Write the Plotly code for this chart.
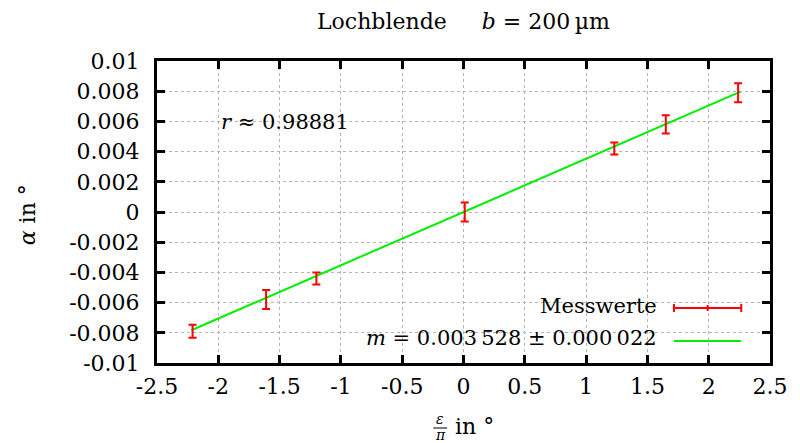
import plotly.graph_objects as go

# data
x_vals = [-2.21, -1.61, -1.20, 0.01, 1.23, 1.65, 2.24]
y_vals = [-0.0079, -0.0058, -0.0044, 0.0000, 0.0042, 0.0058, 0.0079]
y_err = [0.00043, 0.00063, 0.00040, 0.00063, 0.00040, 0.00060, 0.00063]
slope = 0.003528
fit_x = [-2.22, 2.26]
fit_y = [slope * v for v in fit_x]

x_ticks = [-2.5, -2, -1.5, -1, -0.5, 0, 0.5, 1, 1.5, 2, 2.5]
x_ticktext = ["-2.5", "-2", "-1.5", "-1", "-0.5", "0", "0.5", "1", "1.5", "2", "2.5"]
y_ticks = [-0.01, -0.008, -0.006, -0.004, -0.002, 0, 0.002, 0.004, 0.006, 0.008, 0.01]
y_ticktext = ["-0.01", "-0.008", "-0.006", "-0.004", "-0.002", "0",
              "0.002", "0.004", "0.006", "0.008", "0.01"]

FONT = "DejaVu Serif"
FS = 22
RED = "#ff0000"
GREEN = "#00ee00"

fig = go.Figure()
fig.add_trace(go.Scatter(
    x=fit_x, y=fit_y, mode="lines",
    line=dict(color=GREEN, width=2), showlegend=False, hoverinfo="skip"))
fig.add_trace(go.Scatter(
    x=x_vals, y=y_vals, mode="markers",
    marker=dict(color=RED, size=1),
    error_y=dict(type="data", array=y_err, visible=True, color=RED,
                 thickness=2, width=4),
    showlegend=False))

W, H = 800, 443
L, R, T, B = 157, 24, 61, 80
pw, ph = W - L - R, H - T - B

def px(x):
    return (x - L) / pw

def py(y):
    return (H - B - y) / ph

axis_common = dict(
    showline=True, linecolor="black", linewidth=3, mirror="allticks",
    ticks="inside", ticklen=8, tickwidth=3, tickcolor="black",
    showgrid=True, gridcolor="#b4b4b4", gridwidth=1, griddash="dot",
    zeroline=False, tickfont=dict(family=FONT, size=FS, color="black"),
)

fig.update_layout(
    width=W, height=H,
    margin=dict(l=L, r=R, t=T, b=B),
    paper_bgcolor="white", plot_bgcolor="white",
    font=dict(family=FONT, color="black"),
    xaxis=dict(range=[-2.5, 2.5], tickvals=x_ticks, ticktext=x_ticktext,
               ticklabelstandoff=2, **axis_common),
    yaxis=dict(range=[-0.01, 0.01], tickvals=y_ticks, ticktext=y_ticktext,
               ticklabelstandoff=10, **axis_common),
    showlegend=False,
)

shapes = []
# opaque key box
shapes.append(dict(type="rect", xref="paper", yref="paper", layer="between",
                   x0=px(405), x1=px(762), y0=0, y1=py(284),
                   fillcolor="white", line=dict(width=0)))
# legend sample: error bar
ry = py(308)
shapes.append(dict(type="line", xref="paper", yref="paper", x0=px(679), x1=px(747),
                   y0=ry, y1=ry, line=dict(color=RED, width=2)))
for xx, hh in [(679, 4), (747, 4), (713, 3)]:
    shapes.append(dict(type="line", xref="paper", yref="paper", x0=px(xx), x1=px(xx),
                       y0=py(308 - hh), y1=py(308 + hh), line=dict(color=RED, width=2)))
# legend sample: fit line
gy = py(341)
shapes.append(dict(type="line", xref="paper", yref="paper", x0=px(679), x1=px(747),
                   y0=gy, y1=gy, line=dict(color=GREEN, width=2)))
# fraction bar in x-axis title
shapes.append(dict(type="line", xref="paper", yref="paper", x0=px(436), x1=px(450),
                   y0=py(428), y1=py(428), line=dict(color="black", width=1)))
fig.update_layout(shapes=shapes)

nb = "\u00a0"
ts = "\u2009"
ann = [
    dict(x=px(467), y=py(22), text="Lochblende" + nb * 5 + "<i>b</i> = 200" + ts + "µm",
         font=dict(size=FS)),
    dict(x=px(220), y=py(122), text="<i>r</i> ≈ 0.98881", xanchor="left", font=dict(size=21)),
    dict(x=px(664), y=py(306), text="Messwerte", xanchor="right", font=dict(size=21)),
    dict(x=px(664), y=py(338),
         text="<i>m</i> = 0.003" + ts + "528 ± 0.000" + ts + "022",
         xanchor="right", font=dict(size=21)),
    dict(x=px(27), y=py(215), text="<i>α</i> in °", textangle=-90, font=dict(size=FS)),
    dict(x=px(443), y=py(419), text="<i>ε</i>", font=dict(size=14)),
    dict(x=px(443), y=py(435), text="<i>π</i>", font=dict(size=14)),
    dict(x=px(478), y=py(426), text="in °", font=dict(size=FS)),
]
for a in ann:
    a.setdefault("xanchor", "center")
    a.update(xref="paper", yref="paper", showarrow=False, yanchor="middle")
    a["font"] = dict(family=FONT, color="black", size=a["font"]["size"])
fig.update_layout(annotations=ann)

fig.write_html("out.html")
